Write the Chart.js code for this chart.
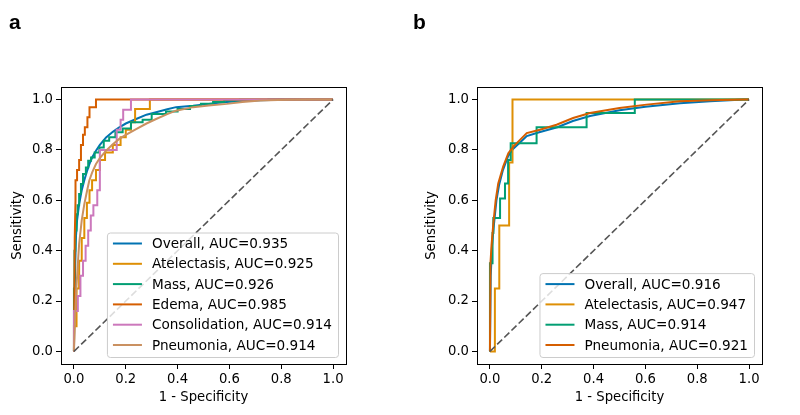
<!DOCTYPE html>
<html>
<head>
<meta charset="utf-8">
<script src="https://cdn.jsdelivr.net/npm/chart.js@4/dist/chart.umd.min.js"></script>
<style>
  html, body { margin: 0; padding: 0; background: #fff; }
  #page { position: relative; width: 800px; height: 415px; overflow: hidden; }
  .panel { position: absolute; top: 0; width: 400px; height: 415px; }
  .tag { position: absolute; top: 10px; font: bold 21px "Liberation Sans", Arial, sans-serif; color: #000; }
</style>
</head>
<body>
<div id="page">
  <div class="panel" style="left:0"><canvas id="rocA" width="400" height="415"></canvas></div>
  <div class="panel" style="left:400px"><canvas id="rocB" width="400" height="415"></canvas></div>
  <div class="tag" style="left:9px">a</div>
  <div class="tag" style="left:413px">b</div>
</div>
<script>
// tick labels shared by both axes
const tickVals = [0, 0.2, 0.4, 0.6, 0.8, 1.0];

// palette (seaborn colorblind)
const cBlue = '#0173b2', cOrange = '#de8f05', cGreen = '#029e73',
      cRed = '#d55e00', cPink = '#cc78bc', cTan = '#ca9161';

// ---- panel a ----
const labelsA = ['Overall, AUC=0.935', 'Atelectasis, AUC=0.925', 'Mass, AUC=0.926',
                 'Edema, AUC=0.985', 'Consolidation, AUC=0.914', 'Pneumonia, AUC=0.914'];

const overallA_x = [0, 0.002, 0.005, 0.008, 0.012, 0.02, 0.03, 0.04, 0.05, 0.06, 0.07, 0.085, 0.1, 0.124, 0.15, 0.175, 0.2, 0.24, 0.28, 0.317, 0.36, 0.394, 0.46, 0.52, 0.59, 0.65, 0.72, 0.8, 0.9, 1];
const overallA_y = [0, 0.2, 0.35, 0.46, 0.52, 0.585, 0.64, 0.68, 0.715, 0.745, 0.77, 0.797, 0.82, 0.85, 0.872, 0.89, 0.905, 0.923, 0.94, 0.95, 0.962, 0.97, 0.976, 0.983, 0.99, 0.994, 0.997, 0.999, 1, 1];

const atelA_x = [0, 0, 0.01, 0.01, 0.02, 0.02, 0.03, 0.03, 0.04, 0.04, 0.05, 0.05, 0.06, 0.06, 0.07, 0.07, 0.085, 0.085, 0.1, 0.1, 0.12, 0.12, 0.15, 0.15, 0.18, 0.18, 0.2, 0.2, 0.22, 0.22, 0.236, 0.236, 0.293, 0.293, 1];
const atelA_y = [0, 0.1, 0.1, 0.25, 0.25, 0.36, 0.36, 0.45, 0.45, 0.53, 0.53, 0.59, 0.59, 0.64, 0.64, 0.68, 0.68, 0.72, 0.72, 0.76, 0.76, 0.79, 0.79, 0.82, 0.82, 0.85, 0.85, 0.88, 0.88, 0.91, 0.91, 0.963, 0.963, 1, 1];

const massA_x = [0, 0.002, 0.005, 0.01, 0.014, 0.02, 0.027, 0.035, 0.046, 0.055, 0.066, 0.08, 0.098, 0.115, 0.136, 0.16, 0.188, 0.22, 0.265, 0.3, 0.355, 0.4, 0.448, 0.49, 0.537, 0.58, 0.64, 0.75, 0.9, 1];
const massA_y = [0, 0.25, 0.4, 0.48, 0.545, 0.58, 0.625, 0.665, 0.705, 0.73, 0.757, 0.77, 0.79, 0.81, 0.837, 0.85, 0.87, 0.885, 0.91, 0.92, 0.943, 0.953, 0.963, 0.975, 0.983, 0.99, 0.996, 0.999, 1, 1];

const edemaA_x = [0, 0.003, 0.006, 0.006, 0.012, 0.012, 0.02, 0.02, 0.027, 0.027, 0.035, 0.035, 0.042, 0.042, 0.052, 0.052, 0.06, 0.06, 0.085, 0.085, 1];
const edemaA_y = [0, 0.45, 0.6, 0.68, 0.68, 0.72, 0.72, 0.76, 0.76, 0.82, 0.82, 0.86, 0.86, 0.89, 0.89, 0.93, 0.93, 0.97, 0.97, 1, 1];

const consA_x = [0, 0, 0.015, 0.015, 0.025, 0.025, 0.035, 0.035, 0.045, 0.045, 0.055, 0.055, 0.065, 0.065, 0.075, 0.075, 0.09, 0.09, 0.1, 0.1, 0.165, 0.165, 0.18, 0.18, 0.19, 0.19, 0.22, 0.22, 1];
const consA_y = [0, 0.16, 0.16, 0.22, 0.22, 0.3, 0.3, 0.36, 0.36, 0.42, 0.42, 0.48, 0.48, 0.54, 0.54, 0.58, 0.58, 0.64, 0.64, 0.8, 0.8, 0.88, 0.88, 0.92, 0.92, 0.96, 0.96, 1, 1];

const pneuA_x = [0, 0.004, 0.008, 0.014, 0.02, 0.03, 0.04, 0.05, 0.059, 0.07, 0.085, 0.1, 0.124, 0.15, 0.175, 0.2, 0.24, 0.28, 0.317, 0.36, 0.394, 0.46, 0.52, 0.59, 0.65, 0.72, 0.82, 0.92, 1];
const pneuA_y = [0, 0.12, 0.227, 0.33, 0.426, 0.52, 0.585, 0.635, 0.678, 0.71, 0.744, 0.768, 0.797, 0.823, 0.844, 0.86, 0.883, 0.905, 0.923, 0.942, 0.956, 0.97, 0.977, 0.983, 0.99, 0.996, 0.999, 1, 1];

// ---- panel b ----
const labelsB = ['Overall, AUC=0.916', 'Atelectasis, AUC=0.947', 'Mass, AUC=0.914', 'Pneumonia, AUC=0.921'];

const overallB_x = [0, 0.003, 0.008, 0.015, 0.025, 0.035, 0.05, 0.07, 0.09, 0.116, 0.142, 0.19, 0.26, 0.32, 0.386, 0.5, 0.6, 0.733, 0.85, 0.98, 1];
const overallB_y = [0, 0.3, 0.42, 0.5, 0.6, 0.66, 0.72, 0.775, 0.805, 0.83, 0.855, 0.87, 0.89, 0.915, 0.935, 0.958, 0.972, 0.985, 0.993, 1, 1];

const atelB_x = [0, 0.019, 0.019, 0.036, 0.036, 0.074, 0.074, 0.087, 0.087, 1];
const atelB_y = [0, 0, 0.25, 0.25, 0.5, 0.5, 0.75, 0.75, 1, 1];

const massB_x = [0, 0, 0.01, 0.01, 0.013, 0.013, 0.039, 0.039, 0.058, 0.058, 0.07, 0.07, 0.08, 0.08, 0.18, 0.18, 0.373, 0.373, 0.559, 0.559, 1];
const massB_y = [0, 0.35, 0.35, 0.47, 0.47, 0.53, 0.53, 0.607, 0.607, 0.667, 0.667, 0.76, 0.76, 0.827, 0.827, 0.89, 0.89, 0.947, 0.947, 1, 1];

const pneuB_x = [0, 0.002, 0.006, 0.013, 0.022, 0.032, 0.051, 0.071, 0.09, 0.116, 0.142, 0.193, 0.257, 0.321, 0.386, 0.5, 0.604, 0.733, 0.85, 0.98, 1];
const pneuB_y = [0, 0.35, 0.42, 0.507, 0.6, 0.667, 0.734, 0.787, 0.813, 0.84, 0.867, 0.88, 0.9, 0.927, 0.947, 0.967, 0.98, 0.993, 0.997, 1, 1];

const diag_x = [0, 1];
const diag_y = [0, 1];

const zip = (xs, ys) => xs.map((x, i) => ({ x: x, y: ys[i] }));

Chart.defaults.font.family = '"DejaVu Sans", sans-serif';
Chart.defaults.font.size = 13;
Chart.defaults.color = '#000';

function curve(label, xs, ys, color, extra) {
    return Object.assign({
        label: label,
        data: zip(xs, ys),
        borderColor: color,
        backgroundColor: color,
        borderWidth: 2,
        pointRadius: 0,
        showLine: true,
        fill: false,
        tension: 0
    }, extra || {});
}

// black box around the plot area, like matplotlib spines
const frame = {
    id: 'frame',
    afterDatasetsDraw(chart) {
        const a = chart.chartArea, ctx = chart.ctx;
        ctx.save();
        ctx.strokeStyle = '#000';
        ctx.lineWidth = 1;
        ctx.strokeRect(Math.round(a.left) + 0.5, Math.round(a.top) + 0.5,
                       Math.round(a.right - a.left), Math.round(a.bottom - a.top));
        ctx.restore();
    }
};

// legend box in the lower right corner
const rocLegend = {
    id: 'rocLegend',
    afterDraw(chart) {
        const ctx = chart.ctx, a = chart.chartArea;
        const items = chart.data.datasets.filter(d => !d.isRef);
        const rowH = 20.3;
        ctx.save();
        ctx.font = '13.6px "DejaVu Sans"';
        const textW = Math.max(...items.map(d => ctx.measureText(d.label).width));
        const w = 45 + textW + 6;
        const h = 23 + rowH * (items.length - 1);
        const right = a.right - 8, bottom = a.bottom - 7;
        const left = right - w, top = bottom - h;
        ctx.beginPath();
        ctx.roundRect(left + 0.5, top + 0.5, w, h, 3);
        ctx.fillStyle = 'rgba(255,255,255,0.8)';
        ctx.fill();
        ctx.strokeStyle = '#cccccc';
        ctx.lineWidth = 1;
        ctx.stroke();
        items.forEach((d, i) => {
            const y = top + 11 + i * rowH;
            ctx.beginPath();
            ctx.moveTo(left + 6, y);
            ctx.lineTo(left + 35, y);
            ctx.strokeStyle = d.borderColor;
            ctx.lineWidth = 2;
            ctx.stroke();
            ctx.fillStyle = '#000';
            ctx.textBaseline = 'middle';
            ctx.fillText(d.label, left + 45, y + 1);
        });
        ctx.restore();
    }
};

function axis(title, fitSize, titlePad, horizontal) {
    return {
        type: 'linear',
        min: -0.05,
        max: 1.05,
        afterBuildTicks: s => { s.ticks = tickVals.map(v => ({ value: v })); },
        afterFit: s => { if (horizontal) s.height = fitSize; else s.width = fitSize; },
        ticks: { padding: 3, callback: v => v.toFixed(1), color: '#000', font: { size: 13.2 } },
        grid: { display: true, drawOnChartArea: false, drawTicks: true, tickLength: 5, color: '#000', lineWidth: 1 },
        border: { display: true, color: '#000', width: 1 },
        title: {
            display: true, text: title, color: '#000',
            font: { size: 13.2 },
            padding: horizontal ? { top: 0, bottom: titlePad } : { top: titlePad, bottom: 0 }
        }
    };
}

function makeRoc(id, datasets, yWidth, padRight, yTitlePad) {
    const n = datasets.length;
    datasets.forEach((d, i) => { d.order = n - i; });
    return new Chart(document.getElementById(id), {
        type: 'scatter',
        data: { datasets: datasets },
        options: {
            responsive: false,
            animation: false,
            layout: { padding: { top: 87, right: padRight, bottom: 0, left: 0 } },
            plugins: { legend: { display: false }, tooltip: { enabled: false } },
            scales: {
                x: axis('1 - Specificity', 51, 10, true),
                y: axis('Sensitivity', yWidth, yTitlePad, false)
            }
        },
        plugins: [frame, rocLegend]
    });
}

const dash = { borderDash: [7, 3], borderWidth: 1.6, isRef: true };

makeRoc('rocA', [
    curve(labelsA[0], overallA_x, overallA_y, cBlue),
    curve(labelsA[1], atelA_x, atelA_y, cOrange),
    curve(labelsA[2], massA_x, massA_y, cGreen, { stepped: 'after' }),
    curve(labelsA[3], edemaA_x, edemaA_y, cRed),
    curve(labelsA[4], consA_x, consA_y, cPink),
    curve(labelsA[5], pneuA_x, pneuA_y, cTan),
    curve('diag', diag_x, diag_y, '#555555', dash)
], 61, 54, 10);

makeRoc('rocB', [
    curve(labelsB[0], overallB_x, overallB_y, cBlue),
    curve(labelsB[1], atelB_x, atelB_y, cOrange),
    curve(labelsB[2], massB_x, massB_y, cGreen),
    curve(labelsB[3], pneuB_x, pneuB_y, cRed),
    curve('diag', diag_x, diag_y, '#555555', dash)
], 77, 38, 24);
</script>
</body>
</html>
